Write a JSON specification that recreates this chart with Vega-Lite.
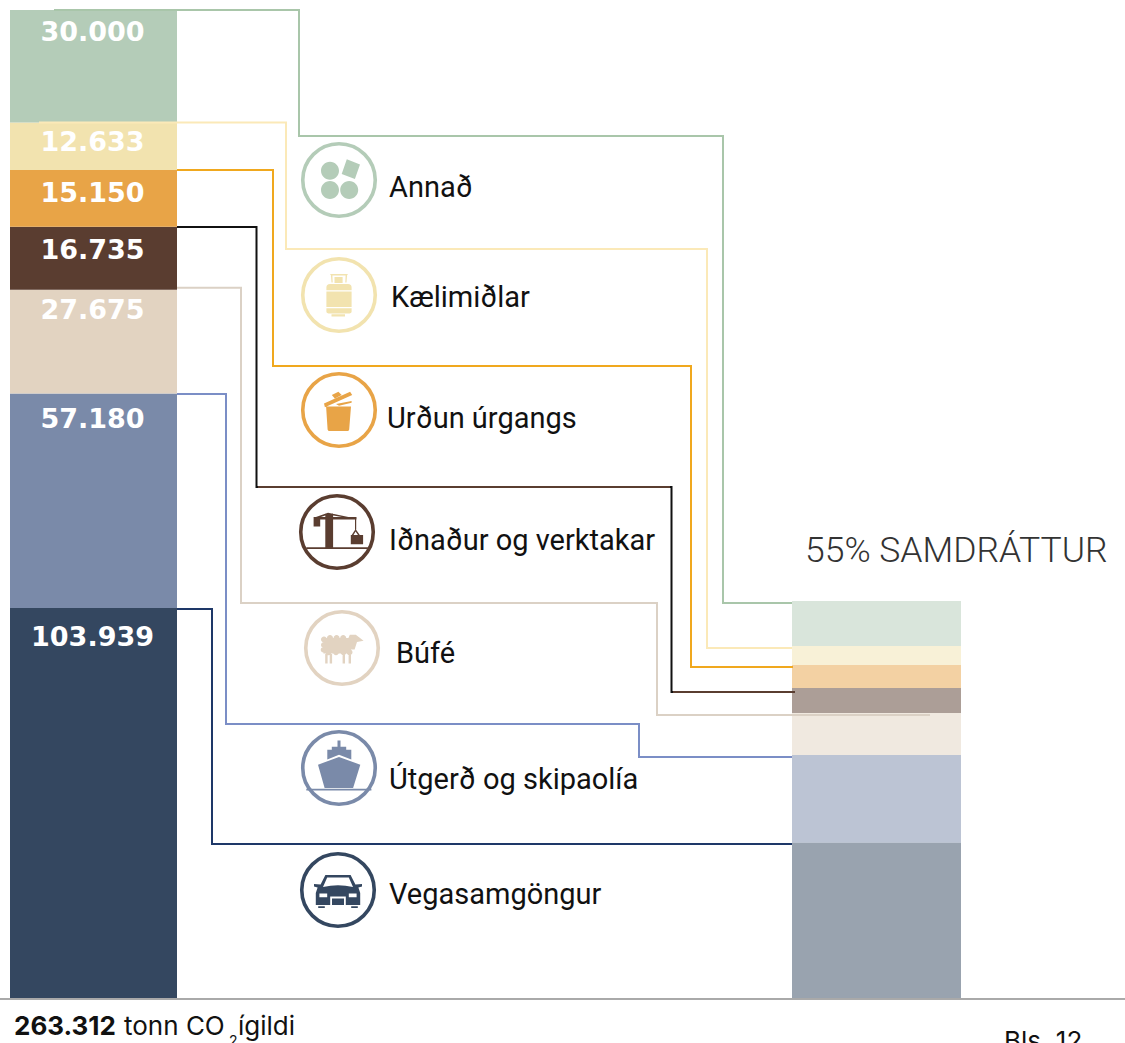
{"$schema":"https://vega.github.io/schema/vega-lite/v6.json","width":1125,"height":1043,"padding":0,"autosize":{"type":"none"},"background":"white","config":{"view":{"stroke":null}},
"datasets":{
"emissions":[
{"scenario":"now","sector":"Vegasamgöngur","rank":1,"tonnes":103939,"label":"103.939","labelAt":95950},
{"scenario":"now","sector":"Útgerð og skipaolía","rank":2,"tonnes":57180,"label":"57.180","labelAt":154050},
{"scenario":"now","sector":"Búfé","rank":3,"tonnes":27675,"label":"27.675","labelAt":183100},
{"scenario":"now","sector":"Iðnaður og verktakar","rank":4,"tonnes":16735,"label":"16.735","labelAt":199090},
{"scenario":"now","sector":"Urðun úrgangs","rank":5,"tonnes":15150,"label":"15.150","labelAt":214280},
{"scenario":"now","sector":"Kælimiðlar","rank":6,"tonnes":12633,"label":"12.633","labelAt":227870},
{"scenario":"now","sector":"Annað","rank":7,"tonnes":30000,"label":"30.000","labelAt":257190},
{"scenario":"target","sector":"Vegasamgöngur","rank":1,"tonnes":41400},
{"scenario":"target","sector":"Útgerð og skipaolía","rank":2,"tonnes":23350},
{"scenario":"target","sector":"Búfé","rank":3,"tonnes":11200},
{"scenario":"target","sector":"Iðnaður og verktakar","rank":4,"tonnes":6670},
{"scenario":"target","sector":"Urðun úrgangs","rank":5,"tonnes":6130},
{"scenario":"target","sector":"Kælimiðlar","rank":6,"tonnes":5070},
{"scenario":"target","sector":"Annað","rank":7,"tonnes":11990}
],
"connectors":[
{"c":"Annað","s":1,"x":54,"y":263312},{"c":"Annað","s":2,"x":299,"y":263312},{"c":"Annað","s":3,"x":299,"y":229740},{"c":"Annað","s":4,"x":723,"y":229740},{"c":"Annað","s":5,"x":723,"y":105275},{"c":"Annað","s":6,"x":792,"y":105275},
{"c":"Kælimiðlar","s":1,"x":39,"y":233312},{"c":"Kælimiðlar","s":2,"x":286,"y":233312},{"c":"Kælimiðlar","s":3,"x":286,"y":199625},{"c":"Kælimiðlar","s":4,"x":707,"y":199625},{"c":"Kælimiðlar","s":5,"x":707,"y":93282},{"c":"Kælimiðlar","s":6,"x":792,"y":93282},
{"c":"Urðun","s":1,"x":177,"y":220679},{"c":"Urðun","s":2,"x":273,"y":220679},{"c":"Urðun","s":3,"x":273,"y":168441},{"c":"Urðun","s":4,"x":691,"y":168441},{"c":"Urðun","s":5,"x":691,"y":88218},{"c":"Urðun","s":6,"x":793,"y":88218},
{"c":"Iðnaður","s":1,"x":177,"y":205487},{"c":"Iðnaður","s":2,"x":256.5,"y":205487},{"c":"Iðnaður","s":3,"x":256.5,"y":136192},{"c":"Iðnaður","s":4,"x":671.5,"y":136192},{"c":"Iðnaður","s":5,"x":671.5,"y":81555},{"c":"Iðnaður","s":6,"x":795,"y":81555},
{"c":"Iðnaður brúnn 1","s":1,"x":258,"y":136192},{"c":"Iðnaður brúnn 1","s":2,"x":670,"y":136192},
{"c":"Iðnaður brúnn 2","s":1,"x":673,"y":81555},{"c":"Iðnaður brúnn 2","s":2,"x":795,"y":81555},
{"c":"Búfé","s":1,"x":177,"y":189300},{"c":"Búfé","s":2,"x":241,"y":189300},{"c":"Búfé","s":3,"x":241,"y":105275},{"c":"Búfé","s":4,"x":657,"y":105275},{"c":"Búfé","s":5,"x":657,"y":75425},{"c":"Búfé","s":6,"x":930,"y":75425},
{"c":"Útgerð","s":1,"x":177,"y":161000},{"c":"Útgerð","s":2,"x":226,"y":161000},{"c":"Útgerð","s":3,"x":226,"y":73026},{"c":"Útgerð","s":4,"x":639,"y":73026},{"c":"Útgerð","s":5,"x":639,"y":64231},{"c":"Útgerð","s":6,"x":792,"y":64231},
{"c":"Vegasamgöngur","s":1,"x":177,"y":103676},{"c":"Vegasamgöngur","s":2,"x":212,"y":103676},{"c":"Vegasamgöngur","s":3,"x":212,"y":41044},{"c":"Vegasamgöngur","s":4,"x":792,"y":41044}
],
"legend":[
{"sector":"Annað","labelX":389,"labelY":216014,"iconX":339,"iconY":218013},
{"sector":"Kælimiðlar","labelX":391,"labelY":186431,"iconX":339,"iconY":187364},
{"sector":"Urðun úrgangs","labelX":387,"labelY":154448,"iconX":339,"iconY":156714},
{"sector":"Iðnaður og verktakar","labelX":389,"labelY":121933,"iconX":337,"iconY":124198},
{"sector":"Búfé","labelX":396,"labelY":91816,"iconX":342,"iconY":93282},
{"sector":"Útgerð og skipaolía","labelX":389,"labelY":58234,"iconX":339,"iconY":61300},
{"sector":"Vegasamgöngur","labelX":389,"labelY":27585,"iconX":338,"iconY":28784}
]},
"data":{"name":"emissions"},
"layer":[
{"transform":[{"stack":"tonnes","groupby":["scenario"],"sort":[{"field":"rank","order":"ascending"}],"as":["y0","y1"]},{"filter":"datum.scenario==='now'"}],
"mark":{"type":"rect"},
"encoding":{"x":{"datum":10,"type":"quantitative","axis":null,"scale":{"domain":[0,1125],"nice":false,"zero":false}},"x2":{"datum":177},
"y":{"field":"y0","type":"quantitative","axis":null,"scale":{"domain":[-11993,265987],"nice":false,"zero":false}},"y2":{"field":"y1"},
"color":{"field":"sector","type":"nominal","legend":null,"scale":{"domain":["Annað","Kælimiðlar","Urðun úrgangs","Iðnaður og verktakar","Búfé","Útgerð og skipaolía","Vegasamgöngur"],"range":["#b4ccb8","#f2e3af","#e8a447","#5a3d30","#e2d3c1","#7a8aa9","#344760"]}}}},
{"transform":[{"stack":"tonnes","groupby":["scenario"],"sort":[{"field":"rank","order":"ascending"}],"as":["y0","y1"]},{"filter":"datum.scenario==='target'"}],
"mark":{"type":"rect","opacity":0.5},
"encoding":{"x":{"datum":792,"type":"quantitative"},"x2":{"datum":961},"y":{"field":"y0","type":"quantitative"},"y2":{"field":"y1"},"color":{"field":"sector","type":"nominal"}}},
{"data":{"name":"connectors"},"mark":{"type":"line","strokeWidth":2,"interpolate":"linear"},
"encoding":{"x":{"field":"x","type":"quantitative"},"y":{"field":"y","type":"quantitative"},"order":{"field":"s"},"detail":{"field":"c"},
"stroke":{"field":"c","type":"nominal","legend":null,"scale":{"domain":["Annað","Kælimiðlar","Urðun","Iðnaður","Iðnaður brúnn 1","Iðnaður brúnn 2","Búfé","Útgerð","Vegasamgöngur"],"range":["#a9c6aa","#fbe9b8","#f0a81e","#111111","#5a3d30","#5a3d30","#dbd1c5","#7b8ec6","#1e3868"]}}}},
{"transform":[{"filter":"datum.scenario==='now'"}],"mark":{"type":"text","font":"DejaVu Sans","fontWeight":"bold","fontSize":27,"color":"white","align":"center","baseline":"middle"},
"encoding":{"x":{"datum":92.5,"type":"quantitative"},"y":{"field":"labelAt","type":"quantitative"},"text":{"field":"label"}}},
{"data":{"name":"legend"},"mark":{"type":"point","filled":false,"shape":"circle","strokeWidth":3.6,"size":5256,"opacity":1},
"encoding":{"x":{"field":"iconX","type":"quantitative"},"y":{"field":"iconY","type":"quantitative"},"color":{"field":"sector","type":"nominal"}}},
{"data":{"name":"legend"},"mark":{"type":"point","filled":true,"size":3600,"opacity":1,"strokeWidth":0},
"encoding":{"x":{"field":"iconX","type":"quantitative"},"y":{"field":"iconY","type":"quantitative"},"color":{"field":"sector","type":"nominal"},
"shape":{"field":"sector","type":"nominal","legend":null,"scale":{"domain":["Annað","Kælimiðlar","Urðun úrgangs","Iðnaður og verktakar","Búfé","Útgerð og skipaolía","Vegasamgöngur"],"range":[
"M-.6 -.31 a.3 .3 0 1 1 .6 0 a.3 .3 0 1 1 -.6 0 Z M-.6 .33 a.3 .3 0 1 1 .6 0 a.3 .3 0 1 1 -.6 0 Z M.04 .33 a.3 .3 0 1 1 .6 0 a.3 .3 0 1 1 -.6 0 Z M.26 -.69 L.7 -.52 L.53 -.03 L.09 -.2 Z",
"M-.42 -.16 L-.42 -.25 Q-.42 -.37 -.3 -.37 L.3 -.37 Q.42 -.37 .42 -.25 L.42 -.16 Z M-.42 -.12 L.42 -.12 L.42 .4 L-.42 .4 Z M-.42 .44 L.42 .44 L.42 .56 Q.42 .62 .3 .62 L-.3 .62 Q-.42 .62 -.42 .56 Z M-.25 .64 L.2 .64 L.2 .72 L-.25 .72 Z M-.15 -.6 L.12 -.6 L.12 -.4 L-.15 -.4 Z M-.3 -.7 L.3 -.7 L.27 -.66 L.25 -.42 L.21 -.42 L.22 -.65 L-.22 -.65 L-.21 -.42 L-.25 -.42 L-.27 -.66 Z",
"M-.43 -.12 L.4 -.12 L.34 .65 Q.33 .7 .28 .7 L-.32 .7 Q-.37 .7 -.38 .65 Z M-.5 -.22 L.37 -.61 L.44 -.5 L-.47 -.09 Z M-.1 -.2 L.42 -.3 L.42 -.24 L0 -.14 Z M-.24 -.5 L-.02 -.61 L.09 -.5 L-.14 -.38 Z",
"M-1.02 .51 L1.03 .51 L1.03 .57 L-1.02 .57 Z M-.39 -.62 L-.13 -.62 L-.13 .52 L-.39 .52 Z M-.78 -.46 L-.56 -.46 L-.56 -.18 L-.78 -.18 Z M-.78 -.5 L.65 -.5 L.65 -.42 L-.78 -.42 Z M-.3 -.64 L.66 -.44 L.62 -.42 L-.3 -.58 Z M-.75 -.48 L-.3 -.64 L-.3 -.58 L-.7 -.44 Z M.6 -.44 L.64 -.44 L.64 -.08 L.6 -.08 Z M.46 .1 L.87 .1 L.87 .41 L.46 .41 Z M.49 .1 L.62 -.1 L.76 .1 L.7 .1 L.62 -.02 L.55 .1 Z",
"M-.62 -.33 L.3 -.33 L.3 .18 L-.62 .18 Z M-.7 -.1 a.1 .1 0 1 1 .2 0 a.1 .1 0 1 1 -.2 0 Z M-.71 .06 a.09 .09 0 1 1 .18 0 a.09 .09 0 1 1 -.18 0 Z M-.7 -.28 a.1 .1 0 1 1 .2 0 a.1 .1 0 1 1 -.2 0 Z M-.5 -.33 a.1 .1 0 1 1 .2 0 a.1 .1 0 1 1 -.2 0 Z M-.28 -.33 a.1 .1 0 1 1 .2 0 a.1 .1 0 1 1 -.2 0 Z M-.06 -.33 a.1 .1 0 1 1 .2 0 a.1 .1 0 1 1 -.2 0 Z M-.55 .14 a.1 .1 0 1 1 .2 0 a.1 .1 0 1 1 -.2 0 Z M-.3 .14 a.1 .1 0 1 1 .2 0 a.1 .1 0 1 1 -.2 0 Z M-.05 .14 a.1 .1 0 1 1 .2 0 a.1 .1 0 1 1 -.2 0 Z M.15 .14 a.1 .1 0 1 1 .2 0 a.1 .1 0 1 1 -.2 0 Z M.2 -.3 L.26 -.44 L.46 -.44 L.72 -.24 L.5 -.2 L.42 .05 L.2 .05 Z M-.56 .2 L-.48 .2 L-.48 .52 L-.56 .52 Z M-.41 .2 L-.33 .2 L-.33 .52 L-.41 .52 Z M.02 .2 L.1 .2 L.1 .52 L.02 .52 Z M.22 .2 L.3 .2 L.3 .52 L.22 .52 Z",
"M-.7 -.11 L0 -.37 L.71 -.11 L.47 .67 L-.48 .67 Z M-.39 -.61 L.41 -.61 L.41 -.28 L0 -.44 L-.39 -.28 Z M-.24 -.71 L.24 -.71 L.24 -.61 L-.24 -.61 Z M-.05 -.92 L.05 -.92 L.05 -.71 L-.05 -.71 Z M-1.09 .69 L1.08 .69 L1.08 .75 L-1.09 .75 Z",
"M-.42 -.5 L.42 -.5 L.58 -.18 L.8 -.2 L.8 -.12 L.68 -.08 L.74 .1 L.74 .5 L-.74 .5 L-.74 .1 L-.68 -.08 L-.8 -.12 L-.8 -.2 L-.58 -.18 Z M-.36 -.42 L-.5 -.1 Q0 -.22 .5 -.1 L.36 -.42 Z M-.62 .12 L-.62 .24 L-.36 .24 L-.36 .12 Z M.36 .12 L.36 .24 L.62 .24 L.62 .12 Z M-.26 .22 L-.26 .5 L-.2 .5 L-.2 .28 L.2 .28 L.2 .5 L.26 .5 L.26 .22 Z M-.66 .54 L-.44 .54 L-.44 .6 L-.66 .6 Z M.44 .54 L.66 .54 L.66 .6 L.44 .6 Z"
]}}}},
{"data":{"name":"legend"},"mark":{"type":"text","font":"Roboto","fontSize":29,"color":"#111111","align":"left","baseline":"middle"},
"encoding":{"x":{"field":"labelX","type":"quantitative"},"y":{"field":"labelY","type":"quantitative"},"text":{"field":"sector"}}},
{"data":{"values":[{"text":"55% SAMDRÁTTUR","x":805,"y":119134}]},"mark":{"type":"text","font":"Roboto","fontWeight":300,"fontSize":35.5,"color":"#333333","align":"left","baseline":"middle"},
"encoding":{"x":{"field":"x","type":"quantitative"},"y":{"field":"y","type":"quantitative"},"text":{"field":"text"}}},
{"mark":{"type":"rule","color":"#a9a9a9","strokeWidth":1.7},"encoding":{"x":{"datum":0,"type":"quantitative"},"x2":{"datum":1125},"y":{"datum":-200,"type":"quantitative"}}},
{"data":{"values":[{"text":"263.312","x":14,"y":-7700}]},"mark":{"type":"text","font":"Inter","fontWeight":"bold","fontSize":26,"color":"#111111","align":"left","baseline":"middle"},
"encoding":{"x":{"field":"x","type":"quantitative"},"y":{"field":"y","type":"quantitative"},"text":{"field":"text"}}},
{"data":{"values":[{"text":"tonn CO","x":124,"y":-7700},{"text":"ígildi","x":238,"y":-7700},{"text":"Bls. 12","x":1004,"y":-11700}]},"mark":{"type":"text","font":"Inter","fontSize":26,"color":"#111111","align":"left","baseline":"middle"},
"encoding":{"x":{"field":"x","type":"quantitative"},"y":{"field":"y","type":"quantitative"},"text":{"field":"text"}}},
{"data":{"values":[{"text":"2","x":229,"y":-11600}]},"mark":{"type":"text","font":"Inter","fontSize":14,"color":"#111111","align":"left","baseline":"middle"},
"encoding":{"x":{"field":"x","type":"quantitative"},"y":{"field":"y","type":"quantitative"},"text":{"field":"text"}}}
],
"resolve":{"scale":{"stroke":"independent"}}}
